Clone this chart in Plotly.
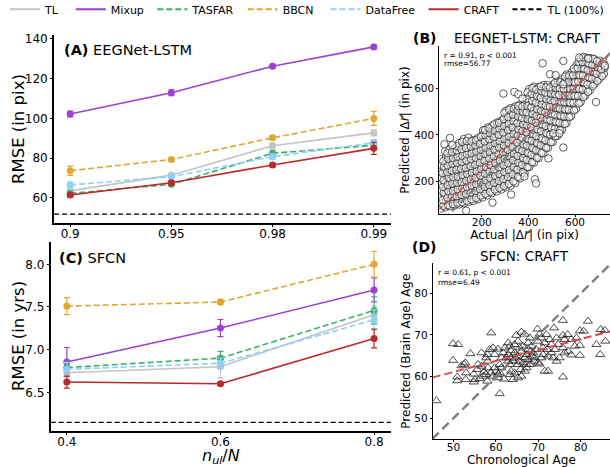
import plotly.graph_objects as go

W, H = 610, 467

# ---------------- Panel A: EEGNet-LSTM ----------------
a_ratios = ["0.9", "0.95", "0.98", "0.99"]
a_pos = [0, 1, 2, 3]
a_tl = [63.5, 71.4, 86.2, 92.7]
a_tl_err = [1.0, 1.0, 1.5, 1.5]
a_mixup = [102.2, 112.9, 126.3, 136.0]
a_mixup_err = [1.5, 1.5, 1.0, 1.0]
a_tasfar = [62.2, 66.8, 82.4, 86.5]
a_tasfar_err = [1.0, 1.0, 1.5, 1.5]
a_bbcn = [73.6, 79.3, 90.2, 100.0]
a_bbcn_err = [2.3, 1.0, 1.0, 3.5]
a_datafree = [66.5, 70.6, 80.7, 87.7]
a_datafree_err = [1.5, 1.0, 1.5, 1.5]
a_craft = [61.4, 67.6, 76.5, 84.9]
a_craft_err = [1.0, 1.0, 1.0, 3.0]
a_tl100 = 51.8
a_yticks = [60, 80, 100, 120, 140]

# ---------------- Panel C: SFCN ----------------
c_ratios = [0.4, 0.6, 0.8]
c_tl = [6.73, 6.80, 7.41]
c_tl_err = [0.05, 0.13, 0.10]
c_mixup = [6.855, 7.253, 7.70]
c_mixup_err = [0.17, 0.10, 0.14]
c_tasfar = [6.79, 6.90, 7.46]
c_tasfar_err = [0.05, 0.08, 0.16]
c_bbcn = [7.51, 7.558, 8.0]
c_bbcn_err = [0.10, 0.03, 0.15]
c_datafree = [6.77, 6.84, 7.35]
c_datafree_err = [0.08, 0.06, 0.12]
c_craft = [6.62, 6.60, 7.13]
c_craft_err = [0.07, 0.02, 0.11]
c_tl100 = 6.148
c_yticks = [6.5, 7.0, 7.5, 8.0]

# ---------------- Panel B: EEGNET-LSTM: CRAFT scatter (actual, predicted) ----------------
b_points = [
    (24,84),(27,108),(21,135),(26,161),(23,190),(28,214),(22,243),(25,270),(27,296),
    (44,90),(47,115),(41,142),(46,170),(43,196),(48,225),(42,251),(45,279),(47,305),(43,330),
    (63,94),(68,122),(62,149),(66,174),(64,203),(69,229),(61,256),(65,284),(67,311),(62,338),
    (84,98),(87,125),(82,150),(86,178),(83,207),(89,233),(81,262),(85,290),(88,318),(84,342),
    (104,102),(108,129),(101,156),(106,183),(103,212),(109,238),(102,265),(107,293),(104,322),(108,348),(103,365),
    (124,107),(128,133),(121,161),(126,188),(123,216),(129,242),(122,270),(127,298),(124,327),(128,353),(123,382),
    (144,113),(148,139),(141,166),(146,193),(143,221),(149,247),(142,276),(147,302),(144,331),(148,358),(143,388),
    (164,117),(168,144),(161,171),(166,199),(163,227),(169,253),(162,281),(167,308),(164,336),(168,361),(163,378),
    (184,124),(188,151),(181,179),(186,206),(183,233),(189,259),(182,287),(187,314),(184,342),(188,366),(183,386),
    (204,132),(208,159),(201,187),(206,213),(203,241),(209,267),(202,295),(207,322),(204,349),(208,375),(203,400),(206,420),
    (224,141),(228,168),(221,196),(226,222),(223,250),(229,277),(222,305),(227,331),(224,358),(228,384),(223,409),(226,432),
    (244,150),(248,177),(241,205),(246,232),(243,259),(249,286),(242,314),(247,341),(244,368),(248,394),(243,419),(246,440),
    (264,158),(268,186),(261,213),(266,241),(263,268),(269,296),(262,323),(267,350),(264,377),(268,404),(263,430),(266,453),
    (284,166),(288,193),(281,221),(286,249),(283,277),(289,304),(282,331),(287,359),(284,386),(288,413),(283,439),(286,462),
    (304,175),(308,203),(301,231),(306,259),(303,286),(309,314),(302,342),(307,369),(304,397),(308,424),(303,451),(306,478),(304,503),
    (324,182),(328,211),(321,239),(326,268),(323,296),(329,323),(322,351),(327,379),(324,406),(328,434),(323,461),(326,489),(324,515),
    (344,194),(348,222),(341,250),(346,278),(343,306),(349,334),(342,362),(347,389),(344,417),(348,445),(343,472),(346,498),(344,522),
    (364,214),(368,241),(361,269),(366,297),(363,325),(369,353),(362,381),(367,408),(364,436),(368,464),(363,491),(366,514),(364,530),
    (384,236),(388,263),(381,291),(386,319),(383,347),(389,375),(382,403),(387,430),(384,458),(388,486),(383,512),(386,536),
    (404,262),(408,290),(401,318),(406,346),(403,374),(409,402),(402,430),(407,457),(404,485),(408,513),(403,541),(406,568),(404,596),
    (424,281),(428,309),(421,337),(426,365),(423,393),(429,421),(422,449),(427,476),(424,504),(428,532),(423,560),(426,585),(424,607),
    (444,301),(448,329),(441,357),(446,385),(443,413),(449,441),(442,469),(447,496),(444,524),(448,552),(443,580),(446,606),
    (464,322),(468,350),(461,378),(466,406),(463,434),(469,462),(462,490),(467,517),(464,545),(468,573),(463,598),(466,614),
    (484,345),(488,373),(481,401),(486,429),(483,457),(489,485),(482,513),(487,540),(484,568),(488,594),(483,613),
    (504,370),(508,398),(501,426),(506,454),(503,482),(509,510),(502,538),(507,565),(504,592),(508,616),
    (524,396),(528,424),(521,452),(526,480),(523,508),(529,536),(522,564),(527,591),(524,614),(528,630),
    (544,421),(548,449),(541,477),(546,505),(543,533),(549,561),(542,589),(547,615),(544,638),
    (564,451),(568,479),(561,507),(566,535),(563,563),(569,591),(562,618),(567,642),(564,659),
    (584,481),(588,509),(581,537),(586,565),(583,593),(589,621),(582,648),(587,670),
    (604,511),(608,539),(601,567),(606,595),(603,623),(609,651),(602,677),(606,698),
    (624,541),(628,569),(621,597),(626,625),(623,653),(629,681),(622,706),(626,726),
    (644,570),(648,598),(641,626),(646,654),(643,682),(649,708),(644,731),
    (664,591),(668,619),(661,647),(666,675),(663,702),(668,728),
    (684,618),(688,646),(681,674),(686,700),(683,724),
    (704,641),(708,668),(701,694),(706,718),
    (724,661),(727,688),(722,712),
    # second interleaved layer
    (35,96),(33,121),(37,153),(34,177),(36,205),(32,236),(38,262),(35,287),
    (56,100),(53,131),(57,158),(54,185),(58,216),(52,240),(55,268),(57,297),(53,321),
    (76,104),(73,136),(77,160),(74,192),(78,218),(72,247),(75,276),(77,300),(73,326),
    (96,108),(93,137),(97,166),(94,195),(98,220),(92,252),(95,279),(97,306),(93,333),(96,352),
    (116,112),(113,143),(117,170),(114,198),(118,227),(112,255),(115,284),(117,310),(113,339),(116,370),
    (136,118),(133,147),(137,176),(134,204),(138,232),(132,259),(135,290),(137,316),(133,344),(136,373),
    (156,124),(153,153),(157,183),(154,210),(158,238),(152,266),(155,295),(157,321),(153,350),(156,372),
    (176,130),(173,160),(177,188),(174,217),(178,244),(172,273),(175,301),(177,327),(173,355),(176,377),
    (196,140),(193,167),(197,196),(194,226),(198,253),(192,281),(195,309),(197,336),(193,362),(196,392),
    (216,148),(213,177),(217,205),(214,234),(218,262),(212,290),(215,318),(217,345),(213,372),(216,398),(214,421),
    (236,156),(233,185),(237,214),(234,243),(238,271),(232,299),(235,327),(237,354),(233,381),(236,407),(234,428),
    (256,166),(253,195),(257,224),(254,252),(258,280),(252,308),(255,337),(257,364),(253,390),(256,418),(254,445),
    (276,173),(273,203),(277,232),(274,261),(278,290),(272,317),(275,346),(277,373),(273,400),(276,427),(274,452),
    (296,181),(293,211),(297,240),(294,270),(298,298),(292,326),(295,355),(297,383),(293,410),(296,437),(294,468),(297,495),
    (316,190),(313,220),(317,250),(314,279),(318,308),(312,336),(315,365),(317,393),(313,420),(316,448),(314,476),(317,508),
    (336,201),(333,231),(337,262),(334,291),(338,320),(332,348),(335,377),(337,405),(333,432),(336,460),(334,487),(337,512),
    (356,220),(353,251),(357,281),(354,310),(358,339),(352,367),(355,396),(357,424),(353,451),(356,478),(354,505),(357,524),
    (376,240),(373,271),(377,301),(374,331),(378,360),(372,388),(375,417),(377,445),(373,472),(376,498),(374,522),
    (396,262),(393,293),(397,324),(394,354),(398,383),(392,411),(395,440),(397,468),(393,496),(396,524),(394,555),(397,582),
    (416,283),(413,314),(417,345),(414,375),(418,404),(412,433),(415,462),(417,490),(413,518),(416,546),(414,575),(417,600),
    (436,302),(433,334),(437,365),(434,395),(438,424),(432,453),(435,482),(437,510),(433,538),(436,566),(434,594),
    (456,323),(453,355),(457,386),(454,416),(458,445),(452,474),(455,503),(457,531),(453,559),(456,587),(454,608),
    (476,345),(473,377),(477,408),(474,438),(478,467),(472,496),(475,525),(477,553),(473,581),(476,604),
    (496,369),(493,401),(497,432),(494,462),(498,491),(492,520),(495,549),(497,577),(493,603),
    (516,394),(513,426),(517,457),(514,487),(518,516),(512,545),(515,574),(517,601),(513,622),
    (536,420),(533,452),(537,483),(534,513),(538,542),(532,571),(535,600),(537,626),
    (556,447),(553,479),(557,510),(554,540),(558,569),(552,598),(555,627),(557,650),
    (576,476),(573,508),(577,539),(574,569),(578,598),(572,627),(575,655),
    (596,505),(593,537),(597,568),(594,598),(598,627),(592,656),(595,684),
    (616,535),(613,567),(617,598),(614,628),(618,657),(612,686),(615,712),
    (636,562),(633,594),(637,625),(634,655),(638,684),(632,712),(636,734),
    (656,585),(653,616),(657,647),(654,677),(658,706),(655,730),
    (676,610),(673,641),(677,672),(674,700),(678,726),
    (696,632),(693,662),(697,690),(694,716),
    (716,652),(713,681),(717,706),
    # scattered outliers
    (461,707),(293,577),(340,584),(357,574),(374,556),(493,660),(517,656),(550,617),
    (690,541),(550,346),(486,299),(428,210),(433,192),(326,144),(246,110),(133,75),
    (618,731),(657,727),(550,717),(728,696),(64,387),(40,360),(74,356),(383,222),
    (507,407),(533,407),
]
b_actual = [p[0] for p in b_points]
b_pred = [p[1] for p in b_points]
b_fit_x = [18, 750]
b_fit_y = [82, 745]
b_diag = [0, 800]

# ---------------- Panel D: SFCN: CRAFT scatter (chronological, predicted) ----------------
d_points = [
    (45.96,54.2),(60.9,55.9),(49.9,63.9),(49.9,67.9),(51.1,67.7),(54.0,65.5),(58.9,70.5),(50.9,59.9),
    (50.9,59.0),(51.9,62.6),(52.5,62.9),(52.8,63.3),(53.0,60.9),(52.9,59.3),(54.8,60.6),(55.0,59.3),
    (54.8,58.7),(55.8,62.9),(56.6,62.5),(57.2,61.1),(57.7,60.5),(56.6,65.7),(57.0,60.1),(58.0,65.3),
    (58.5,66.5),(58.1,63.7),(58.0,58.9),(59.3,66.9),(59.7,65.3),(60.5,66.6),(59.7,62.1),(60.1,61.3),
    (60.5,60.5),(60.5,59.7),(60.9,62.9),(61.3,64.5),(61.9,59.4),(62.9,68.1),(63.3,67.3),(63.5,66.2),
    (62.5,64.5),(62.9,63.7),(63.3,62.9),(63.6,61.3),(64.0,59.3),(64.8,69.9),(66.0,70.7),(66.8,70.2),
    (64.4,67.7),(65.2,68.5),(65.6,66.9),(66.0,66.1),(66.4,67.3),(64.6,64.5),(65.2,62.9),(65.8,61.7),
    (66.8,61.3),(66.8,64.5),(67.2,65.3),(67.6,64.1),(68.0,69.3),(67.6,68.1),(68.4,67.3),(66.0,60.1),
    (67.2,62.1),(68.8,65.7),(69.1,64.5),(69.5,66.5),(69.9,68.5),(69.8,71.4),(69.9,63.3),(70.3,63.0),
    (70.7,64.5),(71.1,65.3),(71.5,61.3),(72.3,61.3),(71.9,70.1),(72.7,68.9),(73.1,67.7),(73.7,71.7),
    (74.3,69.3),(73.1,65.7),(73.9,66.5),(74.7,67.7),(75.0,64.5),(75.8,73.5),(75.8,69.9),(76.2,68.9),
    (76.9,70.1),(77.8,68.9),(75.8,66.9),(76.2,65.7),(75.8,59.9),(77.8,65.2),(79.8,65.1),(79.8,67.5),
    (79.8,71.0),(80.7,70.9),(81.7,73.3),(83.7,67.7),(84.6,65.3),(84.7,71.3),(85.8,68.5),(85.7,71.1),
    (62.9,65.3),(63.6,64.5),(64.0,63.7),(64.4,65.7),(65.1,64.9),(65.5,63.7),(66.4,63.3),(67.2,62.9),
    (68.0,62.9),(68.5,64.9),(69.0,63.7),(67.6,66.5),(68.2,66.1),(71.5,68.1),(71.1,66.9),(72.1,66.5),
    (70.7,69.3),(70.3,70.2),(58.1,62.1),(58.8,60.9),(59.3,60.1),(57.7,64.5),(61.7,65.7),(62.1,66.9),
    (61.3,62.1),(60.9,60.9),(55.6,61.7),(56.2,59.5),(64.4,60.9),(63.3,60.5),(65.2,59.7),(73.5,64.5),
    (72.3,64.9),(74.3,63.7),(77.0,66.1),(78.6,67.3),(79.0,69.3),
]
d_age = [p[0] for p in d_points]
d_pred = [p[1] for p in d_points]
d_fit_x = [45.1, 86.9]
d_fit_y = [59.8, 70.85]
d_diag = [45.0, 87.2]

# ---------------- styling ----------------
FONT = "DejaVu Sans"
NB = "\u00a0"
series = [
    ("TL", "#c4c4c4", "solid", 2),
    ("Mixup", "#9d40d4", "solid", 1),
    ("TASFAR", "#3daf6c", "6px,3px", 1),
    ("BBCN", "#e2a62e", "6px,3px", 2),
    ("DataFree", "#8fd0f8", "6px,3px", 1),
    ("CRAFT", "#b82a2e", "solid", 1),
]
a_vals = [(a_tl, a_tl_err), (a_mixup, a_mixup_err), (a_tasfar, a_tasfar_err),
          (a_bbcn, a_bbcn_err), (a_datafree, a_datafree_err), (a_craft, a_craft_err)]
c_vals = [(c_tl, c_tl_err), (c_mixup, c_mixup_err), (c_tasfar, c_tasfar_err),
          (c_bbcn, c_bbcn_err), (c_datafree, c_datafree_err), (c_craft, c_craft_err)]

a_xrange = [-0.16, 3.17]
c_xrange = [0.379, 0.822]

fig = go.Figure()

for (name, color, dash, _), (yv, ev) in zip(series, a_vals):
    fig.add_trace(go.Scatter(
        x=a_pos, y=yv, mode="lines+markers", name=name, showlegend=False,
        line=dict(color=color, width=1.6, dash=dash),
        marker=dict(color=color, size=7),
        error_y=dict(type="data", array=ev, color=color, thickness=1.2, width=3),
        xaxis="x", yaxis="y"))
for (name, color, dash, _), (yv, ev) in zip(series, c_vals):
    fig.add_trace(go.Scatter(
        x=c_ratios, y=yv, mode="lines+markers", name=name, showlegend=False,
        line=dict(color=color, width=1.6, dash=dash),
        marker=dict(color=color, size=7),
        error_y=dict(type="data", array=ev, color=color, thickness=1.2, width=3),
        xaxis="x3", yaxis="y3"))

fig.add_trace(go.Scatter(x=a_xrange, y=[a_tl100, a_tl100], mode="lines", showlegend=False,
                         line=dict(color="black", width=1.3, dash="5px,3px"), xaxis="x", yaxis="y"))
fig.add_trace(go.Scatter(x=c_xrange, y=[c_tl100, c_tl100], mode="lines", showlegend=False,
                         line=dict(color="black", width=1.3, dash="5px,3px"), xaxis="x3", yaxis="y3"))

# legend entries (line samples); trailing no-break spaces only widen the gap between entries
for name, color, dash, pad in series + [("TL (100%)", "black", "5px,3px", 0)]:
    fig.add_trace(go.Scatter(x=[None], y=[None], mode="lines", name=name + NB * pad,
                             line=dict(color=color, width=2, dash=dash), xaxis="x", yaxis="y"))

# Panel B
fig.add_trace(go.Scatter(x=b_actual, y=b_pred, mode="markers", showlegend=False,
                         marker=dict(symbol="circle", size=7.5, color="rgba(255,255,255,0.55)",
                                     line=dict(color="#1a1a1a", width=0.7)),
                         xaxis="x2", yaxis="y2"))
fig.add_trace(go.Scatter(x=b_diag, y=b_diag, mode="lines", showlegend=False,
                         line=dict(color="#7f7f7f", width=2.2, dash="8px,4px"), xaxis="x2", yaxis="y2"))
fig.add_trace(go.Scatter(x=b_fit_x, y=b_fit_y, mode="lines", showlegend=False,
                         line=dict(color="#e0474a", width=1.6, dash="4px,3px"), xaxis="x2", yaxis="y2"))

# Panel D
fig.add_trace(go.Scatter(x=d_age, y=d_pred, mode="markers", showlegend=False,
                         marker=dict(symbol="triangle-up-open", size=8, color="#222222",
                                     line=dict(width=0.8)),
                         xaxis="x4", yaxis="y4"))
fig.add_trace(go.Scatter(x=d_diag, y=d_diag, mode="lines", showlegend=False,
                         line=dict(color="#7f7f7f", width=2.4, dash="9px,5px"), xaxis="x4", yaxis="y4"))
fig.add_trace(go.Scatter(x=d_fit_x, y=d_fit_y, mode="lines", showlegend=False,
                         line=dict(color="#e0474a", width=2.0, dash="8px,4px"), xaxis="x4", yaxis="y4"))


def px_x(px):
    return px / W


def px_y(py):
    return 1 - py / H


axis_common = dict(showgrid=False, zeroline=False, showline=True, linecolor="black",
                   ticks="outside", tickcolor="black", color="black", automargin=False)

fig.update_layout(
    width=W, height=H, margin=dict(l=0, r=0, t=0, b=0, autoexpand=False),
    paper_bgcolor="white", plot_bgcolor="white",
    font=dict(family=FONT, color="black"),
    showlegend=True,
    legend=dict(orientation="h", x=px_x(5), y=1.011, xanchor="left", yanchor="top",
                font=dict(size=11, family=FONT), bgcolor="rgba(0,0,0,0)",
                itemwidth=30, tracegroupgap=0),
    xaxis=dict(domain=[px_x(54), px_x(391)], range=a_xrange, tickvals=a_pos, ticktext=a_ratios,
               anchor="y", linewidth=1.8, ticklen=2, tickfont=dict(size=12),
               ticklabelstandoff=-3, **axis_common),
    yaxis=dict(domain=[px_y(223), px_y(35)], range=[47.3, 142], tickvals=a_yticks,
               anchor="x", linewidth=1.8, ticklen=2, tickfont=dict(size=12), **axis_common),
    xaxis3=dict(domain=[px_x(50.7), px_x(391)], range=c_xrange, tickvals=c_ratios,
                ticktext=["0.4", "0.6", "0.8"], anchor="y3", linewidth=1.8, ticklen=2,
                tickfont=dict(size=12), ticklabelstandoff=-3,
                title=dict(text="<i>n</i><sub><i>ul</i></sub>/<i>N</i>", font=dict(size=16), standoff=10),
                **axis_common),
    yaxis3=dict(domain=[px_y(430.7), px_y(241.7)], range=[6.05, 8.265], tickvals=c_yticks,
                tickformat=".1f", anchor="x3", linewidth=1.8, ticklen=2, tickfont=dict(size=12),
                **axis_common),
    xaxis2=dict(domain=[px_x(439.3), 1.0], range=[18, 750], tickvals=[200, 400, 600],
                anchor="y2", linewidth=1, ticklen=2, tickfont=dict(size=10.5), ticklabelstandoff=-4,
                title=dict(text="Actual |Δ<i>r⃗</i>| (in pix)", font=dict(size=12), standoff=0),
                **axis_common),
    yaxis2=dict(domain=[px_y(214), px_y(46)], range=[61, 781], tickvals=[200, 400, 600],
                anchor="x2", linewidth=1, ticklen=2, tickfont=dict(size=10.5),
                title=dict(text="Predicted |Δ<i>r⃗</i>| (in pix)", font=dict(size=12), standoff=1),
                **axis_common),
    xaxis4=dict(domain=[px_x(432.7), 1.0], range=[45.1, 86.9], tickvals=[50, 60, 70, 80],
                anchor="y4", linewidth=1, ticklen=2, tickfont=dict(size=10.5), ticklabelstandoff=-4,
                title=dict(text="Chronological Age", font=dict(size=12), standoff=0),
                **axis_common),
    yaxis4=dict(domain=[px_y(439), px_y(263.3)], range=[45.0, 87.2], tickvals=[50, 60, 70, 80],
                anchor="x4", linewidth=1, ticklen=2, tickfont=dict(size=10.5),
                title=dict(text="Predicted (Brain Age) Age", font=dict(size=12), standoff=1),
                **axis_common),
)

annotations = [
    dict(text="RMSE (in pix)", x=px_x(18), y=px_y(129), xanchor="center", yanchor="middle",
         textangle=-90, font=dict(size=16.5)),
    dict(text="RMSE (in yrs)", x=px_x(18), y=px_y(336), xanchor="center", yanchor="middle",
         textangle=-90, font=dict(size=16.5)),
    dict(text="<b>(A)</b> EEGNet-LSTM", x=px_x(62), y=px_y(50), xanchor="left", yanchor="middle",
         font=dict(size=14.5)),
    dict(text="<b>(C)</b> SFCN", x=px_x(57), y=px_y(258), xanchor="left", yanchor="middle",
         font=dict(size=14.5)),
    dict(text="<b>(B)</b>", x=px_x(411), y=px_y(38), xanchor="left", yanchor="middle",
         font=dict(size=14)),
    dict(text="EEGNET-LSTM: CRAFT", x=px_x(527), y=px_y(38), xanchor="center", yanchor="middle",
         font=dict(size=13.5)),
    dict(text="<b>(D)</b>", x=px_x(410), y=px_y(247), xanchor="left", yanchor="middle",
         font=dict(size=14)),
    dict(text="SFCN: CRAFT", x=px_x(524), y=px_y(256), xanchor="center", yanchor="middle",
         font=dict(size=13.5)),
    dict(text="r = 0.91, p < 0.001", x=px_x(442), y=px_y(55), xanchor="left", yanchor="middle",
         font=dict(size=7.5)),
    dict(text="rmse=56.77", x=px_x(442), y=px_y(63.5), xanchor="left", yanchor="middle",
         font=dict(size=7.5)),
    dict(text="r = 0.61, p < 0.001", x=px_x(435.5), y=px_y(272), xanchor="left", yanchor="middle",
         font=dict(size=7.5)),
    dict(text="rmse=6.49", x=px_x(435.5), y=px_y(282), xanchor="left", yanchor="middle",
         font=dict(size=7.5)),
]
for a in annotations:
    a.update(xref="paper", yref="paper", showarrow=False)
fig.update_layout(annotations=annotations)

# remove the page's default 8px body margin so the 610x467 figure fills the window
fig.write_html("out.html", config={"displayModeBar": False},
               post_script="document.body.style.margin='0px';")
